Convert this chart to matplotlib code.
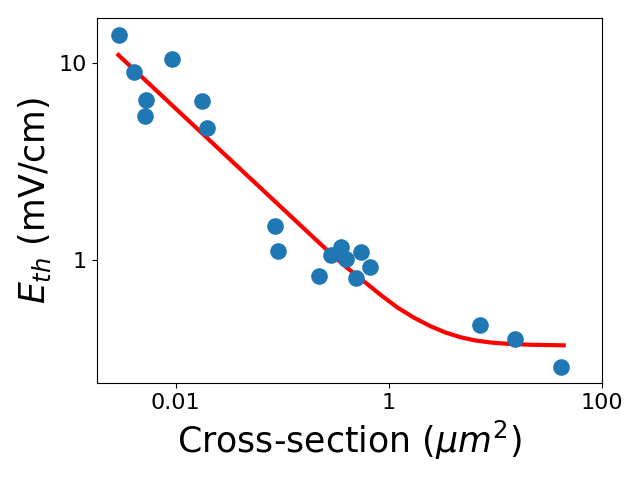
import numpy as np
import matplotlib
matplotlib.use('Agg')
import matplotlib.pyplot as plt
from matplotlib.ticker import FixedLocator, FixedFormatter, NullLocator

# measured points: cross-section (um^2) vs threshold field (mV/cm)
cross_section = [0.00294, 0.00406, 0.00527, 0.00519, 0.00925, 0.0176, 0.0196,
                 0.0853, 0.0903, 0.221, 0.287, 0.358, 0.399, 0.541, 0.485,
                 0.667, 7.10, 15.1, 41.0]
e_th = [13.8, 8.97, 6.49, 5.37, 10.4, 6.40, 4.65,
        1.49, 1.11, 0.83, 1.056, 1.164, 1.008, 1.10, 0.813,
        0.925, 0.467, 0.399, 0.287]

# fit curve
fit_x = [0.002893, 0.0196, 0.07181, 0.1833, 0.2723, 0.3909, 0.5808, 0.8339,
         1.197, 1.703, 2.460, 3.404, 4.710, 6.515, 9.016, 12.94, 21.42, 43.47]
fit_y = [10.94, 4.163, 2.160, 1.345, 1.102, 0.9271, 0.7799, 0.6663,
         0.5750, 0.5112, 0.4613, 0.4286, 0.4058, 0.3908, 0.3818, 0.3761,
         0.3721, 0.3695]

x_ticks = [0.01, 1, 100]
x_tick_labels = ['0.01', '1', '100']
y_ticks = [1, 10]
y_tick_labels = ['1', '10']

fig = plt.figure(figsize=(6.4, 4.8), dpi=100)
ax = fig.add_axes([0.151, 0.202, 0.790, 0.760])

ax.plot(fit_x, fit_y, color='red', linewidth=3, zorder=2)
ax.scatter(cross_section, e_th, s=120, color='#1f77b4', zorder=3)

ax.set_xscale('log')
ax.set_yscale('log')
ax.set_xlim(0.00181, 100)
ax.set_ylim(0.238, 16.8)

ax.xaxis.set_major_locator(FixedLocator(x_ticks))
ax.xaxis.set_major_formatter(FixedFormatter(x_tick_labels))
ax.xaxis.set_minor_locator(NullLocator())
ax.yaxis.set_major_locator(FixedLocator(y_ticks))
ax.yaxis.set_major_formatter(FixedFormatter(y_tick_labels))
ax.yaxis.set_minor_locator(NullLocator())
ax.tick_params(labelsize=16)

ax.set_xlabel(r'Cross-section ($\mu m^2$)', fontsize=25)
ax.set_ylabel(r'$E_{th}$ (mV/cm)', fontsize=25)

fig.savefig('out.png', dpi=100)
